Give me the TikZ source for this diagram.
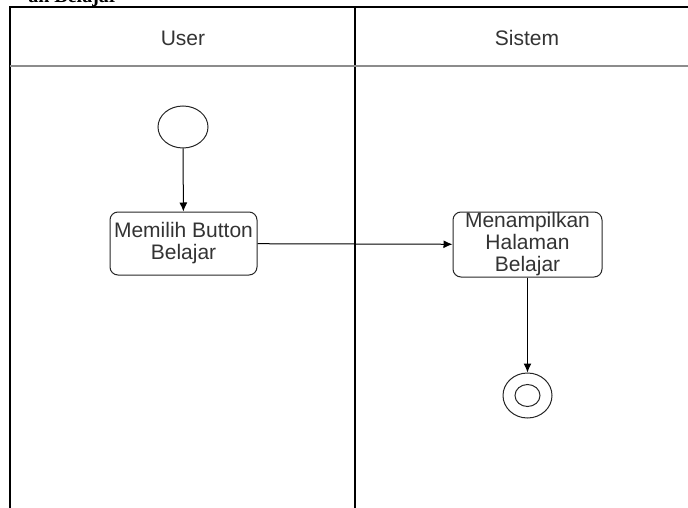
\documentclass[tikz,border=0pt]{standalone}
\usepackage{fontspec}
\setmainfont{Liberation Sans}
\newfontfamily\headserif{Liberation Serif}
\usetikzlibrary{shapes.geometric, arrows.meta}
\usepackage{xcolor}
\definecolor{textgrey}{rgb}{0.2, 0.2, 0.2}
\definecolor{headgrey}{rgb}{0.55, 0.55, 0.55}

\begin{document}
\begin{tikzpicture}[x=1pt,y=-1pt]
					\tikzstyle{lane} = [draw=black,line width=1.2pt]
					\tikzstyle{lanetitle} = [text=textgrey,font=\fontsize{21}{23}\selectfont]
					\tikzstyle{action} = [rectangle,rounded corners=8pt,draw=black!85,line width=1pt,align=center,text=textgrey,font=\fontsize{21}{22}\selectfont,inner sep=0pt]
					\tikzstyle{startnode} = [ellipse,draw=black!85,line width=1pt,minimum width=50pt,minimum height=42pt]
					\tikzstyle{endnode} = [ellipse,draw=black!85,line width=1pt,minimum width=49pt,minimum height=45pt]
					\tikzstyle{flow} = [-{Latex[length=9pt,width=8pt]},line width=1pt]
					\useasboundingbox (0,0) rectangle (688,508);
					\clip (0,0) rectangle (688,508);
					\node[anchor=base east,inner sep=0pt,font=\headserif\bfseries\fontsize{20}{20}\selectfont] (judul) at (118,3) {an Belajar};
					\draw[lane] (10,508) -- (10,7) -- (688,7);
					\draw[lane] (355,7) -- (355,508);
					\draw[draw=headgrey,line width=2pt] (10,66) -- (688,66);
					\node[lanetitle] (user) at (183,38) {User};
					\node[lanetitle] (sistem) at (527,38) {Sistem};
					\node[startnode] (mulai) at (183,127) {};
					\node[action,minimum width=147pt,minimum height=63pt] (pilih) at (183.5,243.5) {Memilih Button\\Belajar};
					\node[action,minimum width=149pt,minimum height=65pt] (tampil) at (527.5,244.5) {Menampilkan\\Halaman\\Belajar};
					\node[endnode] (selesai) at (527.5,395.5) {};
					\node[ellipse,draw=black!85,line width=1pt,minimum width=25pt,minimum height=22pt] (selesaiin) at (selesai) {};
					\draw[flow] (mulai) -- (pilih);
					\draw[flow] (pilih) -- (tampil);
					\draw[flow] (tampil) -- (selesai);
					\end{tikzpicture}
\end{document}
